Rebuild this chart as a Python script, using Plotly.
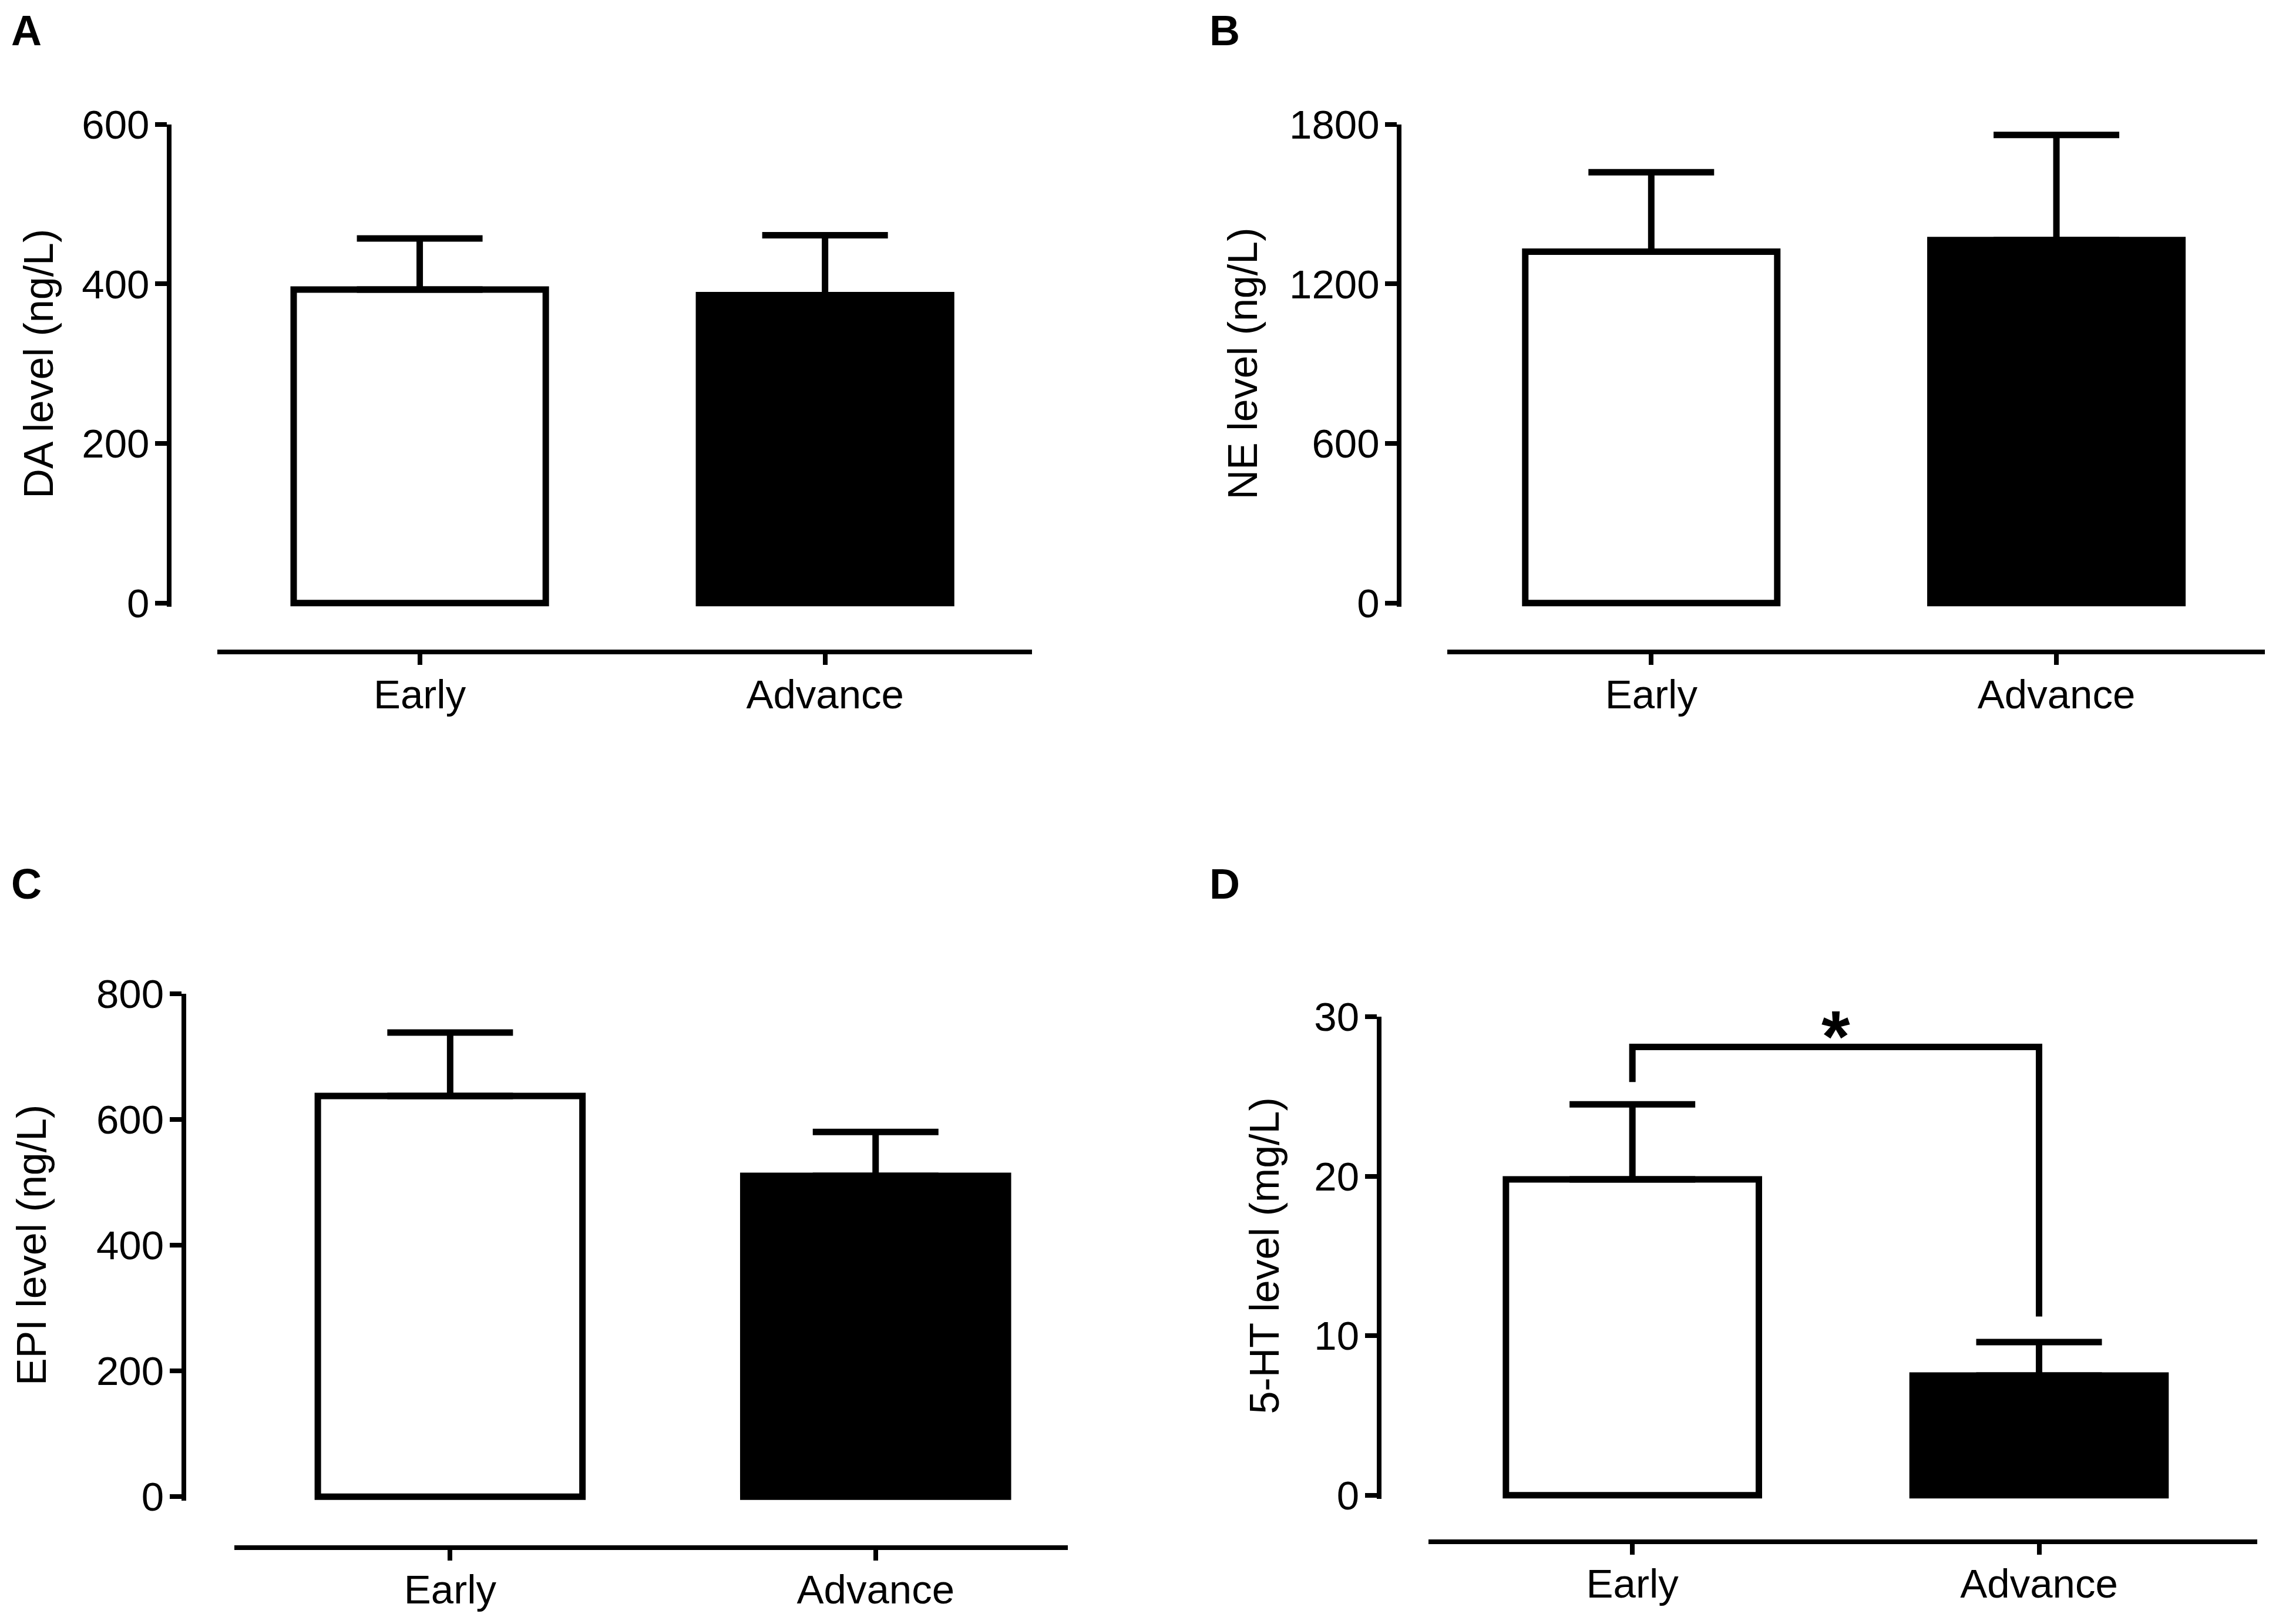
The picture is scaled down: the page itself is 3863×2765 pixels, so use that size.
import plotly.graph_objects as go

# ---- data ----
groups = ["Early", "Advance"]

da_mean = [393, 386]
da_sem = [64, 75]

ne_mean = [1321, 1365]
ne_sem = [299, 395]

epi_mean = [637, 510]
epi_sem = [101, 70]

ht_mean = [19.8, 7.5]
ht_sem = [4.7, 2.1]

# significance bracket in panel D: Early leg, top, top, Advance leg
ht_bracket_x = ["Early", "Early", "Advance", "Advance"]
ht_bracket_y = [25.9, 28.1, 28.1, 11.2]

panel_letters = ["A", "B", "C", "D"]
y_titles = ["DA level (ng/L)", "NE level (ng/L)", "EPI level (ng/L)", "5-HT level (mg/L)"]
y_max = [600, 1800, 800, 30]
y_dtick = [200, 600, 200, 10]

# ---- layout grid measured on the reference (1568 x 1123 units) ----
REF_W, REF_H = 1568, 1123
W, H = 3863, 2765
# yline_x, x0, x1, y_zero, y_top, xline_y, title_x, x range
panels = [
    (117, 150, 713, 417, 86, 451, 27, [-0.5, 1.51]),
    (967, 1000, 1565, 417, 86, 451, 859, [-0.504, 1.514]),
    (127, 162, 738, 1035, 687, 1070, 22, [-0.507, 1.452]),
    (953, 987, 1560, 1034, 703, 1066, 874, [-0.502, 1.537]),
]
letter_pos = [(7, 4), (835, 4), (7, 594), (835, 594)]


def fx(px):
    return px / REF_W


def fy(py):
    return 1 - py / REF_H


FONT = "Liberation Sans, Arial, Helvetica, sans-serif"
LINE_W = 8
BAR_LINE = 11
ERR_W = 11

means = [da_mean, ne_mean, epi_mean, ht_mean]
sems = [da_sem, ne_sem, epi_sem, ht_sem]
fills = ["white", "black"]

fig = go.Figure()
annotations = []

for i, (yl, x0, x1, yz, yt, xl, tx, xr) in enumerate(panels):
    n = "" if i == 0 else str(i + 1)
    pad = 0.008
    for j, g in enumerate(groups):
        fig.add_trace(go.Bar(
            x=[g], y=[means[i][j]],
            xaxis="x" + n, yaxis="y" + n,
            width=0.622,
            marker=dict(color=fills[j], line=dict(color="black", width=BAR_LINE)),
            error_y=dict(type="data", symmetric=False, array=[sems[i][j]], arrayminus=[0],
                         color="black", thickness=ERR_W, width=107),
            showlegend=False, hoverinfo="skip",
        ))
    fig.update_layout(**{
        "xaxis" + n: dict(
            domain=[fx(x0), fx(x1)], anchor="free", position=fy(xl),
            range=xr, type="category", categoryorder="array", categoryarray=groups,
            showline=True, linecolor="black", linewidth=LINE_W,
            ticks="outside", ticklen=18, tickwidth=LINE_W, tickcolor="black",
            ticklabelstandoff=-9,
            showgrid=False, zeroline=False, automargin=False,
            tickfont=dict(family=FONT, size=69, color="black"),
        ),
        "yaxis" + n: dict(
            domain=[fy(yz + pad * (yz - yt)), fy(yt)], anchor="free", position=fx(yl),
            range=[-pad * y_max[i], y_max[i]], tick0=0, dtick=y_dtick[i],
            showline=True, linecolor="black", linewidth=LINE_W,
            ticks="outside", ticklen=20, tickwidth=LINE_W, tickcolor="black",
            ticklabelstandoff=-4,
            showgrid=False, zeroline=False, automargin=False,
            tickfont=dict(family=FONT, size=69, color="black"),
        ),
    })
    annotations.append(dict(
        text=y_titles[i], textangle=-90, xref="paper", yref="paper",
        x=fx(tx), y=fy((yz + yt) / 2), xanchor="center", yanchor="middle",
        showarrow=False, font=dict(family=FONT, size=70, color="black"),
    ))
    lx, ly = letter_pos[i]
    annotations.append(dict(
        text="<b>%s</b>" % panel_letters[i], xref="paper", yref="paper",
        x=fx(lx), y=fy(ly), xanchor="left", yanchor="top",
        showarrow=False, font=dict(family=FONT, size=72, color="black"),
    ))

# significance bracket and star in panel D
fig.add_trace(go.Scatter(
    x=ht_bracket_x, y=ht_bracket_y, xaxis="x4", yaxis="y4",
    mode="lines", line=dict(color="black", width=ERR_W),
    showlegend=False, hoverinfo="skip",
))
annotations.append(dict(
    text="<b>*</b>", xref="x4", yref="y4", x=0.5, y=ht_bracket_y[1],
    xanchor="center", yanchor="bottom", yshift=-53,
    showarrow=False, font=dict(family=FONT, size=125, color="black"),
))

fig.update_layout(
    template="none",
    width=W, height=H,
    margin=dict(l=0, r=0, t=0, b=0, pad=0, autoexpand=False),
    paper_bgcolor="white", plot_bgcolor="white",
    annotations=annotations,
    font=dict(family=FONT, color="black"),
)

fig.write_html("out.html", config={"displayModeBar": False},
               post_script="document.body.style.margin='0';")
